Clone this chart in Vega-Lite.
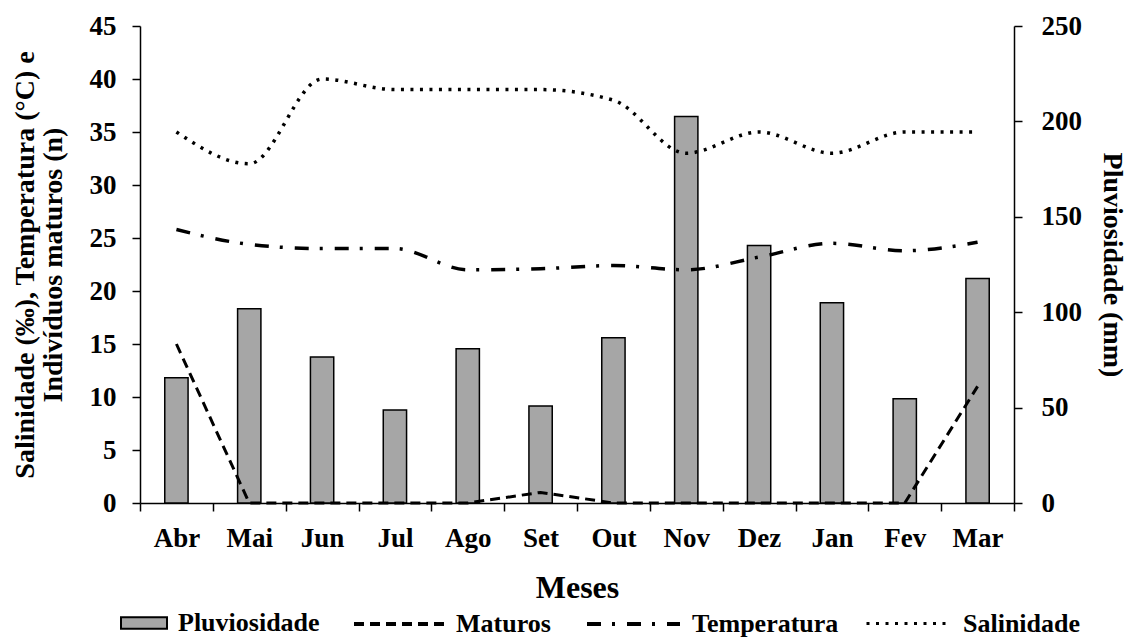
{
  "$schema": "https://vega.github.io/schema/vega-lite/v6.json",
  "width": 874,
  "height": 477,
  "autosize": "none",
  "padding": {"left": 140, "top": 26, "right": 117, "bottom": 136},
  "background": "white",
  "config": {
    "view": {"stroke": null},
    "font": "Liberation Serif",
    "axis": {
      "labelFont": "Liberation Serif", "labelFontWeight": "bold", "labelFontSize": 27, "labelColor": "black",
      "titleFont": "Liberation Serif", "titleFontWeight": "bold", "titleFontSize": 27, "titleColor": "black",
      "domainColor": "black", "domainWidth": 1.5, "tickColor": "black", "tickWidth": 1.5, "tickSize": 8,
      "grid": false
    },
    "legend": {
      "labelFont": "Liberation Serif", "labelFontWeight": "bold", "labelFontSize": 26, "labelColor": "black",
      "padding": 0, "orient": "none", "labelOffset": 10, "title": null
    }
  },
  "data": {
    "values": [
      {"mes": "Abr", "pluv": 65.6, "maturos": 15, "temp": 25.8, "sal": 35},
      {"mes": "Mai", "pluv": 101.8, "maturos": 0, "temp": 24.4, "sal": 32},
      {"mes": "Jun", "pluv": 76.5, "maturos": 0, "temp": 24, "sal": 40},
      {"mes": "Jul", "pluv": 48.8, "maturos": 0, "temp": 24, "sal": 39},
      {"mes": "Ago", "pluv": 80.8, "maturos": 0, "temp": 22, "sal": 39},
      {"mes": "Set", "pluv": 50.9, "maturos": 1, "temp": 22.1, "sal": 39},
      {"mes": "Out", "pluv": 86.6, "maturos": 0, "temp": 22.4, "sal": 38},
      {"mes": "Nov", "pluv": 202.6, "maturos": 0, "temp": 22, "sal": 33},
      {"mes": "Dez", "pluv": 134.9, "maturos": 0, "temp": 23.2, "sal": 35},
      {"mes": "Jan", "pluv": 105, "maturos": 0, "temp": 24.5, "sal": 33},
      {"mes": "Fev", "pluv": 54.6, "maturos": 0, "temp": 23.8, "sal": 35},
      {"mes": "Mar", "pluv": 117.6, "maturos": 11, "temp": 24.6, "sal": 35}
    ]
  },
  "encoding": {
    "x": {
      "field": "mes", "type": "nominal", "sort": null,
      "scale": {"paddingInner": 0, "paddingOuter": 0},
      "axis": {"title": "Meses", "titleFontSize": 32, "labelAngle": 0, "tickBand": "extent", "labelPadding": 14, "titlePadding": 21}
    }
  },
  "layer": [
    {
      "mark": {"type": "bar", "width": {"band": 0.32}, "stroke": "black", "strokeWidth": 1.5},
      "encoding": {
        "y": {
          "field": "pluv", "type": "quantitative",
          "scale": {"domain": [0, 250], "nice": false},
          "axis": {"orient": "right", "values": [0, 50, 100, 150, 200, 250], "title": "Pluviosidade (mm)", "titleFontSize": 28, "labelPadding": 19, "titlePadding": 16}
        },
        "fill": {
          "datum": "Pluviosidade",
          "scale": {"range": ["#a6a6a6"]},
          "legend": {"legendX": -20, "legendY": 573, "symbolType": "M-1,-0.25H1V0.25H-1Z", "symbolSize": 2116, "symbolStrokeColor": "black", "symbolStrokeWidth": 2, "symbolFillColor": "#a6a6a6", "symbolOpacity": 1}
        }
      }
    },
    {
      "layer": [
        {
          "mark": {"type": "line", "color": "black", "strokeWidth": 3, "interpolate": "linear"},
          "encoding": {
            "y": {"field": "maturos", "type": "quantitative", "scale": {"domain": [0, 45], "nice": false},
              "axis": {"orient": "left", "values": [0, 5, 10, 15, 20, 25, 30, 35, 40, 45], "title": ["Salinidade (‰), Temperatura (°C) e", "Indivíduos maturos (n)"], "titleFontSize": 28, "titleLineHeight": 28, "labelPadding": 16, "titlePadding": 22}},
            "strokeDash": {"datum": "Maturos", "scale": {"range": [[10, 6]]},
              "legend": {"legendX": 212, "legendY": 551, "symbolType": "stroke", "symbolSize": 8100, "symbolStrokeWidth": 4, "symbolStrokeColor": "black"}}
          }
        },
        {
          "mark": {"type": "line", "color": "black", "strokeWidth": 3.5, "interpolate": "monotone"},
          "encoding": {
            "y": {"field": "temp", "type": "quantitative"},
            "strokeDash": {"datum": "Temperatura", "scale": {"range": [[14, 11, 3, 12]]},
              "legend": {"legendX": 445, "legendY": 549.5, "symbolType": "stroke", "symbolSize": 8649, "symbolStrokeWidth": 4, "symbolStrokeColor": "black"}}
          }
        },
        {
          "mark": {"type": "line", "color": "black", "strokeWidth": 3.5, "interpolate": "monotone"},
          "encoding": {
            "y": {"field": "sal", "type": "quantitative"},
            "strokeDash": {"datum": "Salinidade", "scale": {"range": [[3, 6.5]]},
              "legend": {"legendX": 725, "legendY": 553.5, "symbolType": "stroke", "symbolSize": 7225, "symbolStrokeWidth": 3, "symbolStrokeColor": "black"}}
          }
        }
      ],
      "resolve": {"scale": {"strokeDash": "independent"}, "legend": {"strokeDash": "independent"}}
    }
  ],
  "resolve": {"scale": {"y": "independent"}}
}
